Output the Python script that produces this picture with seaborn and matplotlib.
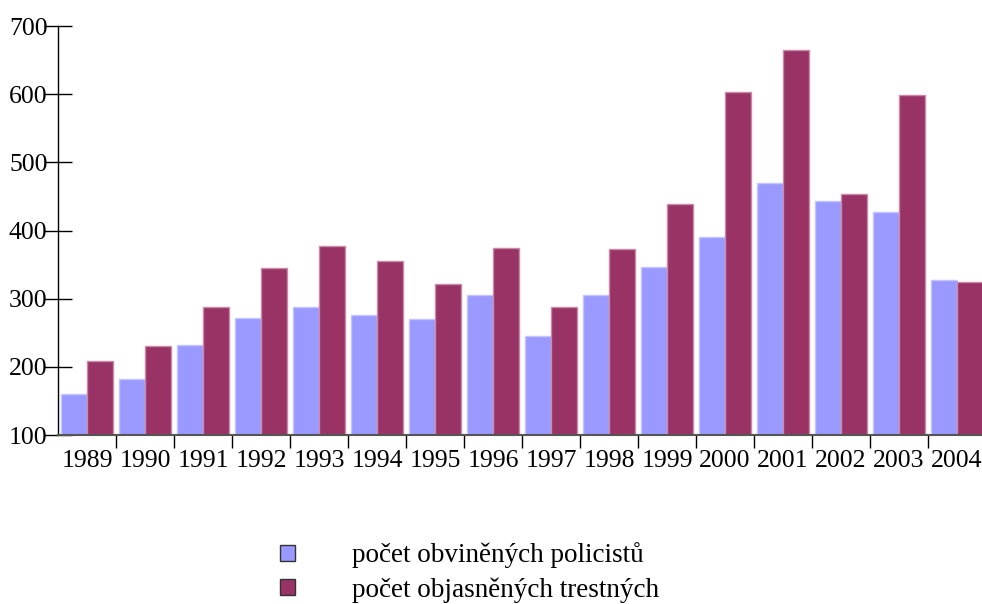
import pandas as pd
import matplotlib.pyplot as plt
import seaborn as sns
from matplotlib.ticker import FixedLocator

# data
years = [str(y) for y in range(1989, 2005)]
obvinenych = [160, 182, 232, 272, 288, 276, 270, 305, 245, 306, 346, 390, 469, 444, 427, 328]
objasnenych = [208, 230, 288, 345, 377, 355, 321, 374, 288, 373, 439, 603, 665, 453, 599, 325]
series_names = ['počet obviněných policistů', 'počet objasněných trestných']
colors = ['#9999FF', '#993366']
edge_colors = ['#C4C4FF', '#C78AA8']

df = pd.DataFrame({
    'rok': years * 2,
    'hodnota': obvinenych + objasnenych,
    'serie': [series_names[0]] * len(years) + [series_names[1]] * len(years),
})

sns.set_style('ticks')
plt.rcParams['font.family'] = ['Liberation Serif', 'DejaVu Serif']

fig = plt.figure(figsize=(9.82, 6.04), dpi=100)
ax = fig.add_axes([58 / 982, 169 / 604, 928 / 982, 409 / 604])

sns.barplot(data=df, x='rok', y='hodnota', hue='serie', palette=colors,
            width=0.9, ax=ax, saturation=1)

for cont, ec in zip(ax.containers, edge_colors):
    for bar in cont:
        bar.set_edgecolor(ec)
        bar.set_linewidth(1)

ax.set_xlim(-0.5, len(years) - 0.5)
ax.set_ylim(100, 700)
ax.set_yticks(range(100, 701, 100))
ax.set_xlabel('')
ax.set_ylabel('')

# year labels centred, tick marks between the groups
ax.tick_params(axis='x', which='major', length=0, pad=11, labelsize=18.5, colors='black')
ax.xaxis.set_minor_locator(FixedLocator([i + 0.5 for i in range(len(years) - 1)]))
ax.tick_params(axis='x', which='minor', length=9, width=1, direction='out', color='black')
ax.tick_params(axis='y', length=20, width=1, direction='inout', pad=-2.5, labelsize=18.5,
               colors='black')

sns.despine(ax=ax, top=True, right=True)
ax.spines['left'].set_color('black')
ax.spines['left'].set_linewidth(1)
ax.spines['bottom'].set_color('#555555')
ax.spines['bottom'].set_linewidth(1.5)

sns.move_legend(ax, loc='upper left', bbox_to_anchor=(266 / 982, 75 / 604),
                bbox_transform=fig.transFigure, frameon=False, title=None,
                fontsize=19.5, borderpad=0, handlelength=0.56, handleheight=0.56,
                handletextpad=2.1, labelspacing=0.32)
leg = ax.get_legend()
for p in leg.get_patches():
    p.set_edgecolor('#333333')
    p.set_linewidth(1)
for t in leg.get_texts():
    t.set_color('black')

plt.savefig('out.png', dpi=100)
